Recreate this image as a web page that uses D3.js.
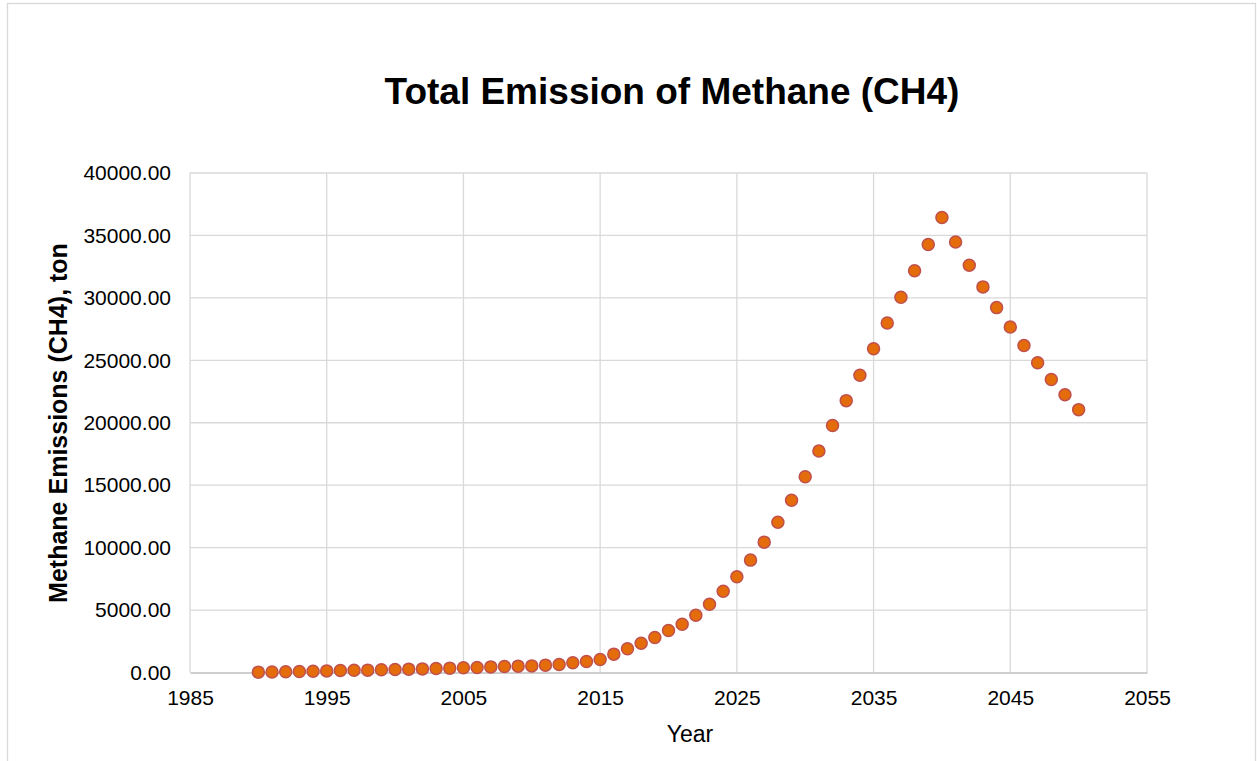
<!DOCTYPE html>
<html>
<head>
<meta charset="utf-8">
<script src="https://cdn.jsdelivr.net/npm/d3@7"></script>
<style>
  html, body { margin: 0; padding: 0; background: #ffffff; }
  svg { display: block; font-family: "Liberation Sans", Arial, sans-serif; }
</style>
</head>
<body>
<svg id="chart" width="1257" height="761"></svg>
<script>
// ---- data ----
const years = [1990,1991,1992,1993,1994,1995,1996,1997,1998,1999,
               2000,2001,2002,2003,2004,2005,2006,2007,2008,2009,
               2010,2011,2012,2013,2014,2015,2016,2017,2018,2019,
               2020,2021,2022,2023,2024,2025,2026,2027,2028,2029,
               2030,2031,2032,2033,2034,2035,2036,2037,2038,2039,
               2040,2041,2042,2043,2044,2045,2046,2047,2048,2049,2050];
const emissions = [30,40,60,80,105,130,160,180,190,215,
                   240,270,290,320,350,375,400,450,480,510,
                   530,590,640,780,880,1040,1470,1900,2350,2800,
                   3360,3870,4590,5470,6510,7660,9000,10440,12040,13800,
                   15670,17730,19780,21770,23800,25920,27990,30050,32170,34280,
                   36430,34470,32620,30880,29220,27660,26190,24800,23460,22250,21050];
const xTicks = [1985,1995,2005,2015,2025,2035,2045,2055];
const yTicks = [0,5000,10000,15000,20000,25000,30000,35000,40000];
const title = "Total Emission of Methane (CH4)";
const xTitle = "Year";
const yTitle = "Methane Emissions (CH4), ton";

// ---- layout ----
const svg = d3.select("#chart");
const L = 190, R = 1147, T = 173, B = 672.5;

// chart area frame
svg.append("rect").attr("x", 7.5).attr("y", 3.5).attr("width", 1248).attr("height", 800)
  .attr("fill", "#fff").attr("stroke", "#d9d9d9").attr("stroke-width", 1.3);

const x = d3.scaleLinear().domain([1985, 2055]).range([L, R]);
const y = d3.scaleLinear().domain([0, 40000]).range([B, T]);

// gridlines
svg.append("g").selectAll("line").data(yTicks.filter(d => d > 0)).join("line")
  .attr("x1", L).attr("x2", R).attr("y1", d => y(d)).attr("y2", d => y(d))
  .attr("stroke", "#d9d9d9").attr("stroke-width", 1.3);
svg.append("g").selectAll("line").data(xTicks).join("line")
  .attr("y1", T).attr("y2", B).attr("x1", d => x(d)).attr("x2", d => x(d))
  .attr("stroke", "#d9d9d9").attr("stroke-width", 1.3);

// axes
const xAxis = svg.append("g").attr("transform", `translate(0,${B})`)
  .call(d3.axisBottom(x).tickValues(xTicks).tickFormat(d3.format("d")).tickSize(0).tickPadding(18));
xAxis.select(".domain").attr("stroke", "#bfbfbf").attr("stroke-width", 1.5);
xAxis.selectAll("text").attr("font-size", 21).attr("fill", "#000")
  .attr("font-family", "Liberation Sans, Arial, sans-serif");

const yAxis = svg.append("g").attr("transform", `translate(${L},0)`)
  .call(d3.axisLeft(y).tickValues(yTicks).tickFormat(d3.format(".2f")).tickSize(0).tickPadding(19));
yAxis.select(".domain").remove();
yAxis.selectAll("text").attr("font-size", 21).attr("fill", "#000")
  .attr("font-family", "Liberation Sans, Arial, sans-serif");

// markers
const pts = years.map((yr, i) => ({ yr, v: emissions[i] }));
svg.append("g").selectAll("circle").data(pts).join("circle")
  .attr("cx", d => x(d.yr)).attr("cy", d => y(d.v)).attr("r", 6)
  .attr("fill", "#e46c0a").attr("stroke", "#c0504d").attr("stroke-width", 1.5);

// titles
svg.append("text").attr("x", 672).attr("y", 103.5).attr("text-anchor", "middle")
  .attr("font-size", 37).attr("font-weight", "bold").attr("fill", "#000").text(title);
svg.append("text").attr("x", 690).attr("y", 742).attr("text-anchor", "middle")
  .attr("font-size", 23).attr("fill", "#000").text(xTitle);
svg.append("text").attr("transform", `translate(67,423) rotate(-90)`).attr("text-anchor", "middle")
  .attr("font-size", 25).attr("font-weight", "bold").attr("fill", "#000").text(yTitle);
</script>
</body>
</html>
